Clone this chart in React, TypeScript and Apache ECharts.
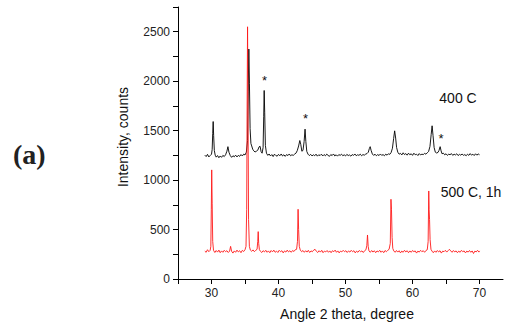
import React, { useEffect, useRef } from "react";
import * as echarts from "echarts";

const xTickValues = [25, 30, 35, 40, 45, 50, 55, 60, 65, 70];
const xLabelValues = [30, 40, 50, 60, 70];
const yTickValues = [0, 250, 500, 750, 1000, 1250, 1500, 1750, 2000, 2250, 2500, 2750];
const yLabelValues = [0, 500, 1000, 1500, 2000, 2500];

const series400C: [number, number][] = [
  [29.0,1252],[29.2,1238],[29.4,1260],[29.6,1234],[29.8,1248],[30.0,1262],[30.1,1310],[30.18,1470],[30.25,1592],[30.32,1450],[30.42,1300],[30.55,1252],[30.7,1232],[30.9,1248],[31.1,1226],[31.3,1244],[31.5,1230],[31.7,1250],[31.9,1238],[32.1,1256],[32.3,1292],[32.45,1338],[32.6,1282],[32.8,1248],[33.0,1230],[33.2,1246],[33.4,1236],[33.6,1252],[33.8,1234],[34.0,1250],[34.2,1240],[34.4,1258],[34.6,1244],[34.8,1262],[35.0,1254],[35.2,1282],[35.38,1400],[35.48,1900],[35.57,2325],[35.66,1980],[35.76,1520],[35.88,1370],[36.0,1345],[36.15,1312],[36.3,1296],[36.5,1284],[36.7,1292],[36.9,1302],[37.1,1336],[37.25,1342],[37.4,1288],[37.55,1272],[37.7,1330],[37.79,1640],[37.86,1906],[37.94,1680],[38.04,1350],[38.2,1272],[38.4,1250],[38.6,1264],[38.8,1244],[39.0,1258],[39.2,1238],[39.4,1262],[39.6,1248],[39.8,1242],[40.0,1260],[40.2,1246],[40.4,1264],[40.6,1244],[40.8,1256],[41.0,1240],[41.2,1258],[41.4,1248],[41.6,1264],[41.8,1246],[42.0,1256],[42.2,1250],[42.4,1262],[42.6,1272],[42.8,1298],[43.0,1345],[43.18,1400],[43.32,1362],[43.48,1292],[43.65,1300],[43.82,1390],[43.96,1515],[44.08,1390],[44.22,1290],[44.4,1262],[44.6,1248],[44.8,1260],[45.0,1244],[45.2,1256],[45.4,1246],[45.6,1262],[45.8,1242],[46.0,1256],[46.2,1248],[46.4,1262],[46.6,1244],[46.8,1258],[47.0,1246],[47.2,1262],[47.4,1250],[47.6,1240],[47.8,1258],[48.0,1248],[48.2,1264],[48.4,1244],[48.6,1256],[48.8,1242],[49.0,1258],[49.2,1250],[49.4,1262],[49.6,1246],[49.8,1256],[50.0,1244],[50.2,1260],[50.4,1248],[50.6,1254],[50.8,1242],[51.0,1258],[51.2,1250],[51.4,1264],[51.6,1246],[51.8,1256],[52.0,1250],[52.2,1262],[52.4,1246],[52.6,1258],[52.8,1252],[53.0,1262],[53.2,1268],[53.4,1282],[53.55,1318],[53.68,1338],[53.82,1300],[54.0,1264],[54.2,1250],[54.4,1262],[54.6,1246],[54.8,1258],[55.0,1248],[55.2,1264],[55.4,1250],[55.6,1258],[55.8,1246],[56.0,1262],[56.2,1252],[56.4,1266],[56.6,1260],[56.8,1278],[57.0,1322],[57.18,1420],[57.33,1498],[57.48,1425],[57.62,1330],[57.8,1282],[58.0,1262],[58.2,1270],[58.4,1254],[58.6,1276],[58.8,1258],[59.0,1268],[59.2,1252],[59.4,1272],[59.6,1256],[59.8,1266],[60.0,1250],[60.2,1272],[60.4,1256],[60.6,1262],[60.8,1248],[61.0,1268],[61.2,1254],[61.4,1262],[61.6,1258],[61.8,1270],[62.0,1262],[62.2,1276],[62.4,1290],[62.6,1340],[62.78,1460],[62.92,1549],[63.06,1450],[63.22,1330],[63.4,1282],[63.6,1274],[63.8,1280],[63.95,1300],[64.12,1338],[64.26,1296],[64.4,1266],[64.6,1272],[64.8,1256],[65.0,1266],[65.2,1250],[65.4,1262],[65.6,1256],[65.8,1268],[66.0,1250],[66.2,1262],[66.4,1254],[66.6,1266],[66.8,1248],[67.0,1260],[67.2,1252],[67.4,1264],[67.6,1250],[67.8,1258],[68.0,1246],[68.2,1262],[68.4,1250],[68.6,1268],[68.8,1252],[69.0,1262],[69.2,1248],[69.4,1266],[69.6,1252],[69.8,1264],[70.0,1256]
];

const series500C: [number, number][] = [
  [29.0,282],[29.2,270],[29.4,296],[29.6,276],[29.8,290],[29.9,330],[29.97,700],[30.03,1103],[30.1,760],[30.18,380],[30.3,290],[30.5,268],[30.7,288],[30.9,272],[31.1,292],[31.3,266],[31.5,284],[31.7,270],[31.9,290],[32.1,276],[32.3,286],[32.5,268],[32.7,282],[32.85,330],[33.0,280],[33.2,262],[33.4,284],[33.6,270],[33.8,292],[34.0,274],[34.2,286],[34.4,266],[34.6,290],[34.8,278],[35.0,296],[35.15,330],[35.25,700],[35.32,1800],[35.38,2550],[35.45,1700],[35.53,600],[35.65,330],[35.8,292],[36.0,280],[36.2,294],[36.4,276],[36.6,290],[36.8,300],[36.9,380],[36.97,479],[37.04,360],[37.15,296],[37.3,280],[37.5,268],[37.7,286],[37.9,274],[38.1,290],[38.3,270],[38.5,284],[38.7,266],[38.9,288],[39.1,274],[39.3,292],[39.5,270],[39.7,282],[39.9,268],[40.1,290],[40.3,276],[40.5,286],[40.7,264],[40.9,284],[41.1,272],[41.3,292],[41.5,274],[41.7,286],[41.9,270],[42.1,288],[42.3,278],[42.5,296],[42.7,300],[42.83,380],[42.92,705],[43.0,500],[43.1,330],[43.25,292],[43.45,276],[43.65,288],[43.85,270],[44.05,286],[44.25,272],[44.45,290],[44.65,268],[44.85,284],[45.05,276],[45.25,292],[45.45,300],[45.65,280],[45.85,268],[46.05,286],[46.25,272],[46.45,290],[46.65,266],[46.85,282],[47.05,274],[47.25,288],[47.45,270],[47.65,284],[47.85,266],[48.05,286],[48.25,276],[48.45,292],[48.65,270],[48.85,284],[49.05,264],[49.25,282],[49.45,274],[49.65,290],[49.85,276],[50.05,286],[50.25,268],[50.45,284],[50.65,272],[50.85,290],[51.05,276],[51.25,286],[51.45,264],[51.65,282],[51.85,270],[52.05,288],[52.25,276],[52.45,284],[52.65,268],[52.85,286],[53.05,296],[53.18,340],[53.28,445],[53.38,330],[53.5,284],[53.7,270],[53.9,288],[54.1,272],[54.3,286],[54.5,266],[54.7,284],[54.9,274],[55.1,290],[55.3,270],[55.5,284],[55.7,266],[55.9,288],[56.1,276],[56.3,290],[56.5,300],[56.68,360],[56.78,806],[56.86,700],[56.95,420],[57.05,310],[57.2,284],[57.4,270],[57.6,288],[57.8,272],[58.0,286],[58.2,264],[58.4,282],[58.6,270],[58.8,290],[59.0,274],[59.2,286],[59.4,266],[59.6,284],[59.8,270],[60.0,288],[60.2,276],[60.4,284],[60.6,262],[60.8,282],[61.0,272],[61.2,290],[61.4,276],[61.6,286],[61.8,270],[62.0,288],[62.2,296],[62.33,380],[62.42,890],[62.48,700],[62.54,600],[62.62,400],[62.75,300],[62.9,282],[63.1,266],[63.3,284],[63.5,270],[63.7,288],[63.9,274],[64.1,286],[64.3,262],[64.5,282],[64.7,276],[64.9,290],[65.1,272],[65.3,286],[65.5,300],[65.7,284],[65.9,270],[66.1,288],[66.3,274],[66.5,284],[66.7,266],[66.9,282],[67.1,270],[67.3,290],[67.5,276],[67.7,284],[67.9,264],[68.1,282],[68.3,272],[68.5,288],[68.7,270],[68.9,284],[69.1,258],[69.3,282],[69.5,274],[69.7,290],[69.9,272],[70.0,284]
];

const FONT = "'Liberation Sans', Arial, sans-serif";

export default function App() {
  const ref = useRef<HTMLDivElement>(null);
  useEffect(() => {
    if (!ref.current) return;
    const chart = echarts.init(ref.current, undefined, { renderer: "svg" });
    chart.setOption({
      animation: false,
      backgroundColor: "#ffffff",
      grid: { left: 178, right: 4, top: 7, bottom: 49, containLabel: false },
      xAxis: {
        type: "value",
        min: 25,
        max: 73.5,
        interval: 5,
        splitLine: { show: false },
        axisLine: { lineStyle: { color: "#000", width: 1 } },
        axisTick: { show: true, inside: false, length: 5, customValues: xTickValues, lineStyle: { color: "#000" } },
        axisLabel: { customValues: xLabelValues, formatter: (v: number) => String(v), color: "#222", fontSize: 12, fontFamily: FONT, margin: 8 },
      },
      yAxis: {
        type: "value",
        min: 0,
        max: 2750,
        interval: 250,
        splitLine: { show: false },
        axisLine: { show: true, lineStyle: { color: "#000", width: 1 } },
        axisTick: { show: true, inside: false, length: 5, customValues: yTickValues, lineStyle: { color: "#000" } },
        axisLabel: { customValues: yLabelValues, formatter: (v: number) => String(v), color: "#222", fontSize: 12, fontFamily: FONT, margin: 8 },
      },
      series: [
        {
          name: "400 C",
          type: "line",
          data: series400C,
          showSymbol: false,
          lineStyle: { color: "#000", width: 0.9 },
          z: 2,
        },
        {
          name: "500 C, 1h",
          type: "line",
          data: series500C,
          showSymbol: false,
          lineStyle: { color: "#ff1a1a", width: 0.9 },
          z: 3,
        },
      ],
      graphic: [
        { type: "text", left: 13, top: 140, style: { text: "(a)", font: "bold 28px 'Liberation Serif', 'Times New Roman', serif", fill: "#222" } },
        { type: "text", x: 123, y: 137, rotation: Math.PI / 2, style: { text: "Intensity, counts", font: `14px ${FONT}`, fill: "#111", align: "center", verticalAlign: "middle" } },
        { type: "text", x: 347, y: 314, style: { text: "Angle 2 theta, degree", font: `14px ${FONT}`, fill: "#111", align: "center", verticalAlign: "middle" } },
        { type: "text", x: 458, y: 98, style: { text: "400 C", font: `14px ${FONT}`, fill: "#111", align: "center", verticalAlign: "middle" } },
        { type: "text", x: 471, y: 192, style: { text: "500 C, 1h", font: `14px ${FONT}`, fill: "#111", align: "center", verticalAlign: "middle" } },
        { type: "text", x: 264.5, y: 80, style: { text: "*", font: `13px ${FONT}`, fill: "#111", align: "center", verticalAlign: "middle" } },
        { type: "text", x: 305.5, y: 118, style: { text: "*", font: `13px ${FONT}`, fill: "#111", align: "center", verticalAlign: "middle" } },
        { type: "text", x: 441, y: 138, style: { text: "*", font: `13px ${FONT}`, fill: "#111", align: "center", verticalAlign: "middle" } },
      ],
    });
    return () => chart.dispose();
  }, []);
  return <div ref={ref} style={{ width: 507, height: 328, position: "absolute", left: 0, top: 0 }} />;
}
